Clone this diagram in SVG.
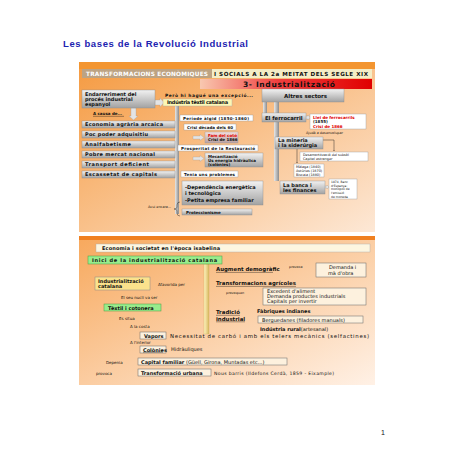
<svg xmlns="http://www.w3.org/2000/svg" width="452" height="452" viewBox="0 0 452 452">
<defs>
<linearGradient id="bg1" x1="0" y1="0" x2="1" y2="1"><stop offset="0" stop-color="#f59a40"/><stop offset="1" stop-color="#fde8d6"/></linearGradient>
<linearGradient id="bg2" x1="0" y1="0" x2="1" y2="1"><stop offset="0" stop-color="#f7a85c"/><stop offset="1" stop-color="#fff1e6"/></linearGradient>
<linearGradient id="gray" x1="0" y1="0" x2="0" y2="1"><stop offset="0" stop-color="#f2f2f2"/><stop offset="1" stop-color="#a2a2a2"/></linearGradient>
<linearGradient id="vgray" x1="0" y1="0" x2="1" y2="0"><stop offset="0" stop-color="#e8e8e8"/><stop offset="1" stop-color="#8c8c8c"/></linearGradient>
<linearGradient id="red" x1="0" y1="0" x2="1" y2="0"><stop offset="0" stop-color="#f8c8b0"/><stop offset="0.45" stop-color="#f04040"/><stop offset="1" stop-color="#e00000"/></linearGradient>
<linearGradient id="pink" x1="0" y1="0" x2="0" y2="1"><stop offset="0" stop-color="#f4e0e0"/><stop offset="1" stop-color="#b8a0a0"/></linearGradient>
<linearGradient id="gold" x1="0" y1="0" x2="1" y2="0"><stop offset="0" stop-color="#fff4c0"/><stop offset="1" stop-color="#d8b860"/></linearGradient>
<marker id="a" viewBox="0 0 6 6" refX="6" refY="3" markerWidth="3" markerHeight="3" orient="auto"><path d="M0,0 L6,3 L0,6 z" fill="#222"/></marker>
<style>
.t{font-family:"DejaVu Sans",sans-serif;font-size:5px;font-weight:bold;fill:#111}
.n{font-weight:normal}
.s{font-size:4px}
.xs{font-size:3.4px}
.g{fill:url(#gray);stroke:#8a8a8a;stroke-width:0.4}
.w{fill:#fff;stroke:#999;stroke-width:0.4}
.b{fill:#fdf1de;stroke:#666;stroke-width:0.5}
.gr{fill:#98ec8c;stroke:#4a9a40;stroke-width:0.5}
.vb{fill:url(#vgray)}
.ln{fill:none;stroke:#222;stroke-width:0.45}
.la{fill:#e4e4e4;stroke:#999;stroke-width:0.3}
.u{fill:none;stroke:#111;stroke-width:0.4}
</style>
</defs>
<rect width="452" height="452" fill="#fff"/>
<text x="63" y="47" style="font-family:'Liberation Sans',Arial,sans-serif;font-size:9.5px;font-weight:bold;fill:#1c22b0" textLength="185">Les bases de la Revolució Industrial</text>

<!-- top slide -->
<g id="slide1">
<rect x="79" y="62" width="296" height="170" fill="url(#bg1)"/>
<rect x="79" y="62" width="296" height="7" fill="#f39530"/>
<rect x="82" y="69" width="130" height="9" fill="#bda383"/>
<rect x="212" y="69" width="160" height="9" fill="#f4edc6"/>
<text class="t" x="86" y="75.8" style="fill:#fff;font-size:5.8px" textLength="122">TRANSFORMACIONS ECONÒMIQUES</text>
<text class="t" x="214" y="75.8" style="font-size:5.6px" textLength="154">I SOCIALS A LA 2a MEITAT DELS SEGLE XIX</text>
<rect x="200" y="79" width="172" height="10" fill="url(#red)"/>
<text class="t" x="243" y="87" style="font-size:7.5px" textLength="92">3- Industrialització</text>
</g>

<g id="connectors">
<polygon class="la" points="155,100 160,100 160,98 164,102.5 160,107 160,105 155,105"/>
<polygon class="la" points="131,108 136,108 136,116 138,116 133.5,120 129,116 131,116"/>
<rect class="vb" x="175" y="106" width="4" height="108"/>
<polygon class="la" points="193,136 200,136 200,134.5 204,137.5 200,140.5 200,139 193,139"/>
<polygon class="la" points="193,157 200,157 200,155.5 204,158.5 200,161.5 200,160 193,160"/>
<rect class="vb" x="263" y="102" width="4" height="11"/>
<rect class="vb" x="274" y="102" width="5" height="79"/>
<polygon class="la" points="306,116 308,116 308,115 310,117.5 308,120 308,119 306,119"/>
<polygon class="la" points="325,186 327,186 327,185 329,187 327,189 327,188 325,188"/>
<path class="ln" d="M323,140 H334 V151" marker-end="url(#a)"/>
<path class="ln" d="M297,149 V163" marker-end="url(#a)"/>
<path class="u" d="M180,202 q-3,0 -3,3 v2 q0,2 -3,2 q3,0 3,2 v2 q0,3 3,3"/>
<!-- bottom slide connectors -->
<path class="ln" d="M150,284 H201" marker-end="url(#a)"/>
<path class="ln" d="M118,290 V304"/>
<path class="ln" d="M95.5,311 V371"/>
<path class="ln" d="M106,311 V359"/>
<path class="ln" d="M117,311 V316"/>
<path class="ln" d="M117,321 V336 M118,335 L128,326 M118,335 L128,343" />
<path class="ln" d="M125,362 H137" marker-end="url(#a)"/>
<path class="ln" d="M119,372.5 H137" marker-end="url(#a)"/>
<path class="ln" d="M274,270 H315" marker-end="url(#a)"/>
<path class="ln" d="M248,289 L262,296" marker-end="url(#a)"/>
<path class="ln" d="M254,311 H252 V323 H257"/>
</g>

<g id="n-endarreriment"><rect class="g" x="82" y="90" width="73" height="18"/>
<text class="t" x="85" y="95.5">Endarreriment del</text><text class="t" x="85" y="100.8">procés industrial</text><text class="t" x="85" y="106">espanyol</text></g>
<text class="t" x="165" y="97" style="font-size:4.4px" textLength="88">Però hi hagué una excepció...</text>
<g id="n-textil"><rect x="163" y="99" width="69" height="7" fill="#fdf7b4" stroke="#aaa" stroke-width="0.4"/>
<text class="t" x="167" y="104.4" textLength="61">Indústria tèxtil catalana</text></g>
<g id="n-altres"><rect class="g" x="262" y="89" width="82" height="13"/><text class="t" x="284" y="97.5" style="font-size:5.5px">Altres sectors</text></g>
<text class="t s" x="93" y="115">A causa de...</text><path class="u" d="M93,116.3 H124"/>

<g id="n-causes">
<rect class="g" x="82" y="121" width="93" height="7"/><text class="t" x="85" y="126.3" textLength="78">Economia agrària arcaica</text>
<rect class="g" x="82" y="131" width="93" height="7"/><text class="t" x="85" y="136.3" textLength="63">Poc poder adquisitiu</text>
<rect class="g" x="82" y="141" width="93" height="7"/><text class="t" x="85" y="146.3" textLength="46">Analfabetisme</text>
<rect class="g" x="82" y="151" width="93" height="7"/><text class="t" x="85" y="156.3" textLength="70">Pobre mercat nacional</text>
<rect class="g" x="82" y="161" width="93" height="7"/><text class="t" x="85" y="166.3" textLength="64">Transport deficient</text>
<rect class="g" x="82" y="171" width="93" height="7"/><text class="t" x="85" y="176.3" textLength="72">Escassetat de capitals</text>
</g>

<g id="n-periode"><rect class="w" x="180" y="115" width="73" height="6"/><text class="t s" x="183" y="119.7" textLength="66">Període àlgid (1850-1860)</text></g>
<g id="n-crisi60"><rect class="w" x="184" y="124" width="52" height="6"/><text class="t s" x="187" y="128.7" textLength="46">Crisi dècada dels 60</text></g>
<g id="n-fam"><rect x="205" y="132" width="33" height="11" fill="url(#pink)" stroke="#999" stroke-width="0.4"/>
<text class="t s" x="208" y="136.7" style="fill:#e00000">Fam del cotó</text><text class="t s" x="208" y="141.4">Crisi de 1866</text></g>
<g id="n-prosperitat"><rect class="w" x="178" y="145" width="80" height="6"/><text class="t s" x="181" y="149.7" textLength="74">Prosperitat de la Restauració</text></g>
<g id="n-mecanitzacio"><rect class="g" x="205" y="153" width="58" height="14"/>
<text class="t s" x="208" y="157.5">Mecanització</text><text class="t s" x="208" y="161.8">Ús energia hidràulica</text><text class="t s" x="208" y="166">(colònies)</text></g>
<g id="n-problemes"><rect class="w" x="181" y="171" width="57" height="6"/><text class="t s" x="184" y="175.7" textLength="51">Tenia uns problemes</text></g>
<g id="n-dependencia"><rect class="g" x="182" y="181" width="81" height="24"/>
<text class="t" x="185" y="188.5">-Dependència energètica</text><text class="t" x="185" y="195">i tecnològica</text><text class="t" x="185" y="201.5">-Petita empresa familiar</text></g>
<g id="n-proteccionisme"><rect class="g" x="182" y="209" width="70" height="6"/><text class="t s" x="186" y="213.6">Proteccionisme</text></g>
<text class="t xs n" x="148" y="208">Avui encara...</text>

<g id="n-ferrocarril"><rect class="g" x="262" y="113" width="44" height="9"/><text class="t" x="265" y="119.5" style="font-size:5.3px">El ferrocarril</text></g>
<g id="n-llei"><rect class="w" x="310" y="114" width="56" height="15"/>
<text class="t s" x="313" y="118.5" style="fill:#e00000">Llei de ferrocarrils</text><text class="t s" x="313" y="123">(1855)</text><text class="t s" x="313" y="127.5" style="fill:#e00000">Crisi de 1866</text></g>
<text class="t xs n" x="306" y="134">Ajudà a desenvolupar</text>
<g id="n-mineria"><rect class="g" x="275" y="137" width="48" height="12"/><text class="t" x="278" y="142">La mineria</text><text class="t" x="278" y="147.3">i la siderúrgia</text></g>
<g id="n-desamortitzacio"><rect class="w" x="300" y="152" width="68" height="9"/><text class="t xs n" x="303" y="156">Desamortització del subsòl</text><text class="t xs n" x="303" y="160">Capital estranger</text></g>
<g id="n-malaga"><rect class="w" x="294" y="164" width="30" height="13"/><text class="t xs n" x="296" y="168">Màlaga (1840)</text><text class="t xs n" x="296" y="172">Astúries (1870)</text><text class="t xs n" x="296" y="176">Biscaia (1880)</text></g>
<g id="n-banca"><rect class="g" x="280" y="181" width="45" height="13"/><text class="t" x="283" y="186.5">La banca i</text><text class="t" x="283" y="192">les finances</text></g>
<g id="n-banc"><rect class="w" x="329" y="179" width="28" height="20"/>
<text class="t n" x="331" y="183" style="font-size:3px">1874, Banc</text><text class="t n" x="331" y="186.7" style="font-size:3px">d'Espanya:</text><text class="t n" x="331" y="190.4" style="font-size:3px">monopoli de</text><text class="t n" x="331" y="194.1" style="font-size:3px">l'emissió</text><text class="t n" x="331" y="197.8" style="font-size:3px">de moneda</text></g>

<!-- bottom slide -->
<g id="slide2">
<rect x="79" y="236" width="296" height="149" fill="url(#bg2)"/>
<rect x="79" y="236" width="296" height="4" fill="#f08020"/>
<rect x="204" y="264" width="5" height="70" fill="url(#gold)" stroke="#c8a850" stroke-width="0.3"/>
</g>
<g id="n-economia"><rect x="96" y="244" width="274" height="8" fill="#fdf6e0" stroke="#aaa" stroke-width="0.4"/><text class="t" x="102" y="250" textLength="118">Economia i societat en l'època isabelina</text></g>
<g id="n-inici"><rect class="gr" x="88" y="256" width="134" height="8"/><text class="t" x="92" y="262" textLength="125">Inici de la industrialització catalana</text></g>
<g id="n-indcat"><rect x="95" y="277" width="55" height="13" fill="#fbe28c" stroke="#888" stroke-width="0.5"/><text class="t" x="98" y="282.6">Industrialització</text><text class="t" x="98" y="288">catalana</text></g>
<text class="t n s" x="158" y="286">Afavorida per</text>
<text class="t n s" x="121" y="299">El seu nucli va ser</text>
<g id="n-cotonera"><rect class="gr" x="104" y="304" width="57" height="7"/><text class="t" x="108" y="309.6">Tèxtil i cotonera</text></g>
<text class="t n s" x="119" y="320">Es situa</text>
<text class="t n s" x="130" y="328">A la costa</text>
<text class="t n s" x="130" y="344">A l'interior</text>
<g id="n-vapors"><rect class="b" x="140" y="332" width="26" height="7"/><text class="t" x="144" y="337.6">Vapors</text></g>
<text class="t n" x="170" y="338" style="font-size:5.4px" textLength="199">Necessitat de carbó i amb els telers mecànics (selfactines)</text>
<g id="n-colonies"><rect class="b" x="140" y="346" width="26" height="7"/><text class="t" x="143" y="351.6">Colònies</text><path class="u" d="M143,352.3 H163"/></g>
<text class="t n" x="171" y="351.3">Hidràuliques</text>
<text class="t n s" x="106" y="363.5">Depenia</text>
<g id="n-capital"><rect class="b" x="138" y="358" width="149" height="7"/><text class="t" x="141" y="363.5">Capital familiar <tspan class="n">(Güell, Girona, Muntadas etc...)</tspan></text></g>
<text class="t n s" x="96" y="374.5">provoca</text>
<g id="n-urbana"><rect class="b" x="138" y="369" width="73" height="7"/><text class="t" x="141" y="374.6">Transformació urbana</text></g>
<text class="t n" x="214" y="375" style="font-size:4.6px" textLength="120">Nous barris (Ildefons Cerdà, 1859 - Eixample)</text>

<text class="t" x="216" y="271" style="font-size:5.4px">Augment demogràfic</text><path class="u" d="M216,272.4 H273"/>
<text class="t n xs" x="289" y="268.3">provoca</text>
<g id="n-demanda"><rect class="b" x="316" y="263" width="50" height="14"/><text class="t n" x="329" y="268.8">Demanda i</text><text class="t n" x="328" y="274.6">mà d'obra</text></g>
<text class="t" x="216" y="285" style="font-size:5.4px" textLength="80">Transformacions agrícoles</text><path class="u" d="M216,286.4 H296"/>
<text class="t n xs" x="226" y="294">provoquen</text>
<g id="n-excedent"><rect class="b" x="263" y="288" width="103" height="17"/><text class="t n" x="267" y="293">Excedent d'aliment</text><text class="t n" x="267" y="298">Demanda productes industrials</text><text class="t n" x="267" y="303">Capitals per invertir</text></g>
<text class="t" x="216" y="314" style="font-size:5.4px">Tradició</text><text class="t" x="216" y="320.5" style="font-size:5.4px">industrial</text><path class="u" d="M216,315.3 H240 M216,321.8 H245"/>
<text class="t" x="257" y="313">Fàbriques indianes</text>
<g id="n-berguedanes"><rect class="b" x="258" y="316" width="105" height="7"/><text class="t n" x="262" y="321.5">Berguedanes (filadores manuals)</text></g>
<text class="t" x="260" y="330.5">Indústria rural<tspan class="n">(artesanal)</tspan></text>

<text x="381" y="435" style="font-family:'Liberation Sans',Arial,sans-serif;font-size:7px;fill:#111">1</text>
</svg>
